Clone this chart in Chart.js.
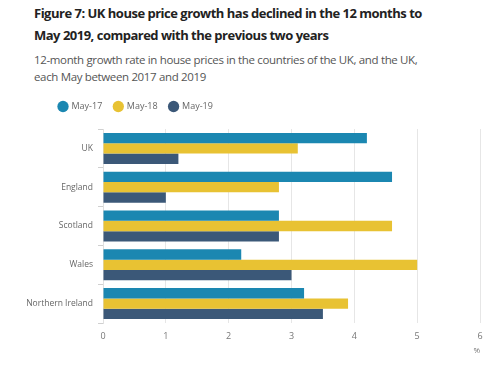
<!DOCTYPE html>
<html><head><meta charset="utf-8">
<script src="https://cdn.jsdelivr.net/npm/chart.js@4"></script>
<style>
html,body{margin:0;padding:0;background:#fff;width:500px;height:366px;overflow:hidden;font-family:"Open Sans",sans-serif;}
.t{position:absolute;left:34px;white-space:nowrap;}
#t1,#t2{font-weight:bold;font-size:13px;letter-spacing:-0.5px;color:#222;}
#t1{top:4px;} #t2{top:26px;}
#s1,#s2{font-size:11.5px;letter-spacing:-0.35px;color:#555;}
#s1{top:52px;} #s2{top:69px;}
#wrap{position:absolute;left:0;top:90px;width:500px;height:276px;}
</style></head><body>
<div class="t" id="t1">Figure 7: UK house price growth has declined in the 12 months to</div>
<div class="t" id="t2">May 2019, compared with the previous two years</div>
<div class="t" id="s1">12-month growth rate in house prices in the countries of the UK, and the UK,</div>
<div class="t" id="s2">each May between 2017 and 2019</div>
<div id="wrap"><canvas id="c" width="500" height="276"></canvas></div>
<script>
const categories = ["UK", "England", "Scotland", "Wales", "Northern Ireland"];
const seriesNames = ["May-17", "May-18", "May-19"];
const may17 = [4.2, 4.6, 2.8, 2.2, 3.2];
const may18 = [3.1, 2.8, 4.6, 5.0, 3.9];
const may19 = [1.2, 1.0, 2.8, 3.0, 3.5];
const xTicks = [0, 1, 2, 3, 4, 5, 6];
const colors = ["#1b87b1", "#e8c233", "#3b5878"];

const layoutTweak = {
  id: 'layoutTweak',
  beforeLayout(chart) {
    const lg = chart.legend;
    if (lg && !lg._patched) {
      const f = lg.fit;
      lg.fit = function () { f.call(this); this.height += 8; };
      lg._patched = true;
    }
  },
  afterLayout(chart) {
    if (chart.legend) chart.legend.left = 47;
  }
};

new Chart(document.getElementById('c'), {
  type: 'bar',
  data: {
    labels: categories,
    datasets: [may17, may18, may19].map((d, i) => ({
      label: seriesNames[i], data: d, backgroundColor: colors[i], borderWidth: 0,
      categoryPercentage: 0.8, barPercentage: 1.0
    }))
  },
  plugins: [layoutTweak],
  options: {
    indexAxis: 'y', responsive: false, animation: false,
    layout: { padding: { left: 5, right: 20, top: 0, bottom: 0 } },
    plugins: {
      legend: { align: 'start', labels: { usePointStyle: true, pointStyle: 'circle', boxWidth: 8, boxHeight: 8, padding: 12, color: '#666', font: { family: 'Open Sans', size: 9 } } },
      tooltip: { enabled: false }
    },
    scales: {
      x: {
        min: 0, max: 6,
        afterBuildTicks: (ax) => { ax.ticks = xTicks.map(v => ({ value: v })); },
        grid: { color: '#e6e6e6', drawTicks: false },
        border: { display: false },
        ticks: { color: '#777', font: { family: 'Open Sans', size: 9, lineHeight: 1 }, padding: 9 },
        title: { display: true, text: '%', align: 'end', color: '#777', font: { family: 'Open Sans', size: 8, lineHeight: 1 }, padding: { top: -3, bottom: 11 } }
      },
      y: {
        afterFit: (ax) => { ax.width = 98; },
        grid: { drawOnChartArea: false, offset: true, tickLength: 5, color: '#d0d0d0' },
        border: { display: true, color: '#e0e0e0' },
        ticks: { color: '#666', font: { family: 'Open Sans', size: 8.5 }, padding: 5 }
      }
    }
  }
});
</script>
</body></html>
